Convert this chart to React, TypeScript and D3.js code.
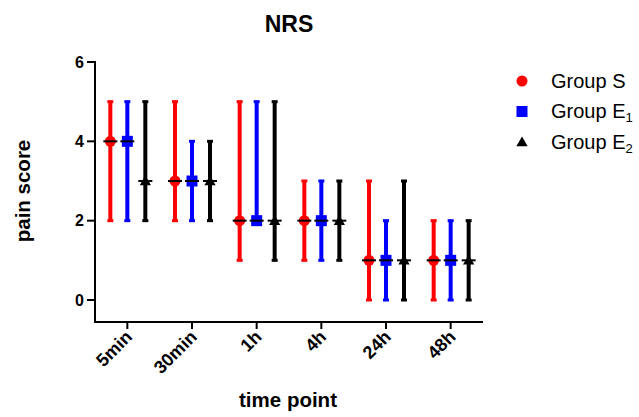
import React from "react";
import * as d3 from "d3";

const timePoints = ["5min", "30min", "1h", "4h", "24h", "48h"];
const groups = ["S", "E1", "E2"];

// median, min, max per time point
const groupSMedian = [4, 3, 2, 2, 1, 1];
const groupSMin = [2, 2, 1, 1, 0, 0];
const groupSMax = [5, 5, 5, 3, 3, 2];

const groupE1Median = [4, 3, 2, 2, 1, 1];
const groupE1Min = [2, 2, 2, 1, 0, 0];
const groupE1Max = [5, 4, 5, 3, 2, 2];

const groupE2Median = [3, 3, 2, 2, 1, 1];
const groupE2Min = [2, 2, 1, 1, 0, 0];
const groupE2Max = [5, 4, 5, 3, 3, 2];

const yTicks = [0, 2, 4, 6];

const colors = ["#ff0000", "#0000ff", "#000000"];
const font = "Liberation Sans, Arial, Helvetica, sans-serif";

const Marker = ({ kind, x, y, color }) => {
  if (kind === 0) return <circle cx={x} cy={y} r={5.5} fill={color} />;
  if (kind === 1)
    return <rect x={x - 5.5} y={y - 5.5} width={11} height={11} fill={color} />;
  const tri = d3.symbol(d3.symbolTriangle, 55)();
  return <path d={tri} transform={`translate(${x},${y + 1})`} fill={color} />;
};

export default function App() {
  const x = d3.scalePoint().domain(timePoints).range([95, 483]).padding(0.5);
  const y = d3.scaleLinear().domain([0, 6]).range([300, 62]);
  const offsets = [-17, 0, 18];

  const series = [
    { med: groupSMedian, lo: groupSMin, hi: groupSMax },
    { med: groupE1Median, lo: groupE1Min, hi: groupE1Max },
    { med: groupE2Median, lo: groupE2Min, hi: groupE2Max },
  ];

  return (
    <svg
      width={639}
      height={417}
      style={{ position: "absolute", left: 0, top: 0, background: "#fff" }}
      fontFamily={font}
    >
      <text x={289} y={32} textAnchor="middle" fontSize={23} fontWeight="bold">
        NRS
      </text>

      {/* y axis */}
      <line x1={95} x2={95} y1={y(6) - 1} y2={323} stroke="#000" strokeWidth={2} />
      {yTicks.map((t) => (
        <g key={t}>
          <line x1={87} x2={95} y1={y(t)} y2={y(t)} stroke="#000" strokeWidth={2} />
          <text x={84} y={y(t) + 5.5} textAnchor="end" fontSize={16} fontWeight="bold">
            {t}
          </text>
        </g>
      ))}
      <text
        transform={`translate(30,${191}) rotate(-90)`}
        textAnchor="middle"
        fontSize={20.5}
        fontWeight="bold"
      >
        pain score
      </text>

      {/* x axis */}
      <line x1={94} x2={483} y1={322} y2={322} stroke="#000" strokeWidth={2} />
      {timePoints.map((tp) => (
        <g key={tp}>
          <line x1={x(tp)} x2={x(tp)} y1={322} y2={329} stroke="#000" strokeWidth={2} />
          <text
            transform={`translate(${x(tp) + 6},${338}) rotate(-45)`}
            textAnchor="end"
            fontSize={18}
            fontWeight="bold"
          >
            {tp}
          </text>
        </g>
      ))}
      <text x={288} y={407} textAnchor="middle" fontSize={20.5} fontWeight="bold">
        time point
      </text>

      {/* error bars */}
      {series.map((s, gi) =>
        timePoints.map((tp, i) => {
          const cx = x(tp) + offsets[gi];
          return (
            <g key={`${gi}-${tp}`}>
              <line
                x1={cx}
                x2={cx}
                y1={y(s.lo[i])}
                y2={y(s.hi[i])}
                stroke={colors[gi]}
                strokeWidth={4}
              />
              <line x1={cx - 3} x2={cx + 3} y1={y(s.hi[i])} y2={y(s.hi[i])} stroke={colors[gi]} strokeWidth={3} />
              <line x1={cx - 3} x2={cx + 3} y1={y(s.lo[i])} y2={y(s.lo[i])} stroke={colors[gi]} strokeWidth={3} />
              <Marker kind={gi} x={cx} y={y(s.med[i])} color={colors[gi]} />
              <line
                x1={cx - 7}
                x2={cx + 7}
                y1={y(s.med[i])}
                y2={y(s.med[i])}
                stroke="#000"
                strokeWidth={2}
              />
            </g>
          );
        })
      )}

      {/* legend */}
      {groups.map((g, gi) => {
        const ly = 81 + gi * 30.5;
        return (
          <g key={g}>
            <Marker kind={gi} x={522} y={ly} color={colors[gi]} />
            <text x={551} y={ly + 6.5} fontSize={20}>
              Group {g === "S" ? "S" : "E"}
              {g !== "S" && (
                <tspan fontSize={13} dy={4}>
                  {g.slice(1)}
                </tspan>
              )}
            </text>
          </g>
        );
      })}
    </svg>
  );
}
